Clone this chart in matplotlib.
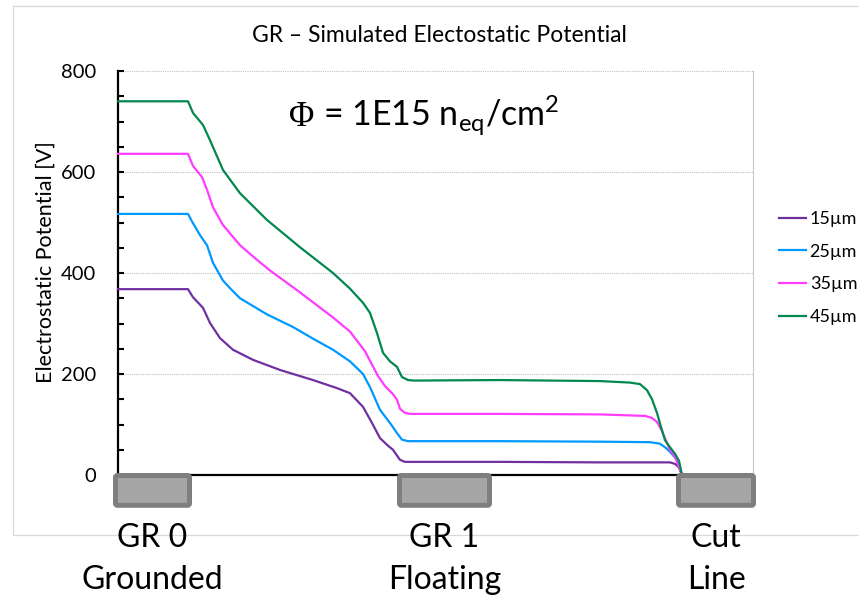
import matplotlib
matplotlib.use("Agg")
import matplotlib.pyplot as plt
from matplotlib.patches import Rectangle, FancyBboxPatch
from matplotlib.ticker import MultipleLocator
import matplotlib.transforms as mtransforms

plt.rcParams['font.family'] = ['Lato', 'DejaVu Sans']

# ---------------- data ----------------
title = "GR \u2013 Simulated Electostatic Potential"
ylabel = "Electrostatic Potential [V]"
series_labels = ["15\u00b5m", "25\u00b5m", "35\u00b5m", "45\u00b5m"]
series_colors = ["#7030a0", "#0099ff", "#ff3cff", "#00884e"]

x_15 = [0, 70, 75, 85, 92, 102, 115, 135, 162, 195, 219, 232, 245, 254, 262, 270, 275, 282, 287, 382,
        482, 552, 557, 561, 564]
v_15 = [368, 368, 352, 331, 301, 271, 248, 228, 208, 188, 172, 162, 135, 103, 73, 58, 50, 30, 26, 26,
        25, 25, 22, 15, 0]

x_25 = [0, 70, 74, 82, 89, 95, 105, 112, 122, 149, 175, 195, 215, 232, 245, 252, 262, 272, 279, 284,
        290, 382, 482, 532, 542, 547, 552, 559, 564]
v_25 = [517, 517, 502, 475, 455, 420, 385, 370, 350, 318, 293, 270, 248, 225, 200, 174, 129, 103, 83, 70,
        67, 67, 66, 65, 62, 55, 46, 30, 0]

x_35 = [0, 70, 75, 84, 89, 95, 105, 122, 139, 152, 179, 215, 232, 247, 260, 267, 275, 279, 282, 287,
        292, 382, 482, 527, 534, 539, 544, 549, 552, 557, 564]
v_35 = [636, 636, 612, 590, 565, 530, 495, 455, 426, 405, 366, 312, 284, 245, 196, 176, 160, 149, 131, 123,
        121, 121, 120, 117, 113, 105, 87, 63, 50, 36, 0]

x_45 = [0, 70, 75, 80, 85, 92, 105, 122, 149, 182, 215, 232, 245, 252, 259, 265, 272, 279, 284, 290,
        296, 382, 482, 512, 522, 529, 534, 539, 543, 547, 552, 557, 561, 564]
v_45 = [740, 740, 717, 705, 693, 663, 604, 558, 505, 451, 400, 369, 341, 321, 281, 242, 225, 214, 194, 188,
        187, 188, 186, 183, 180, 168, 150, 123, 95, 69, 55, 42, 28, 0]

ring_names = ["GR 0", "GR 1", "Cut"]
ring_states = ["Grounded", "Floating", "Line"]
ring_left = [-5, 279, 558]
ring_right = [74, 374, 638]

yticks = [0, 200, 400, 600, 800]

# ---------------- figure ----------------
W, H = 859, 595
fig = plt.figure(figsize=(W / 100, H / 100), dpi=100)
fig.patch.set_facecolor("white")

# outer chart frame
fig.add_artist(Rectangle((13 / W, 1 - 535 / H), 1.0, (535 - 6) / H,
                         transform=fig.transFigure, fill=False,
                         edgecolor="#d9d9d9", linewidth=0.9, zorder=0))

ax = fig.add_axes([118 / W, 1 - 475 / H, (753 - 118) / W, (475 - 71) / H])
ax.set_xlim(0, 635)
ax.set_ylim(0, 800)

for xs, vs, lab, col in zip([x_15, x_25, x_35, x_45], [v_15, v_25, v_35, v_45],
                            series_labels, series_colors):
    ax.plot(xs, vs, color=col, lw=1.6, label=lab, clip_on=False, zorder=3,
            solid_joinstyle="round")

# grid
for y in yticks[1:]:
    ax.axhline(y, color="#bfbfbf", lw=0.8, linestyle=(0, (1, 1)), zorder=1)

ax.spines["top"].set_visible(False)
ax.spines["right"].set_color("#c8c8c8")
ax.spines["right"].set_linewidth(0.8)
ax.spines["left"].set_color("black")
ax.spines["left"].set_linewidth(1.6)
ax.spines["bottom"].set_color("black")
ax.spines["bottom"].set_linewidth(1.6)

ax.set_xticks([])
ax.set_yticks(yticks)
ax.yaxis.set_minor_locator(MultipleLocator(50))
ax.tick_params(axis="y", which="both", direction="in", length=4, width=1.5,
               color="black", labelsize=14.5, pad=16)

# rings
for l, r in zip(ring_left, ring_right):
    p = FancyBboxPatch((l + 2.5, -60), (r - l) - 5, 59,
                       boxstyle="round,pad=0,rounding_size=2",
                       facecolor="#a6a6a6", edgecolor="#7f7f7f",
                       linewidth=3.6, clip_on=False, zorder=6,
                       mutation_aspect=2)
    ax.add_patch(p)

trans = mtransforms.blended_transform_factory(ax.transData, fig.transFigure)
for l, r, n, s in zip(ring_left, ring_right, ring_names, ring_states):
    cx = (l + r) / 2
    ax.text(cx, 1 - 547 / H, n, transform=trans, ha="center", va="baseline",
            fontsize=23, color="black", clip_on=False, zorder=7)
    ax.text(cx, 1 - 589 / H, s, transform=trans, ha="center", va="baseline",
            fontsize=23, color="black", clip_on=False, zorder=7)

# title
fig.text(439 / W, 1 - 42 / H, title, ha="center", va="baseline", fontsize=16.5)

# y label
fig.text(46 / W, 1 - 262 / H, ylabel, rotation=90, ha="center", va="center", fontsize=15.5)

# fluence annotation
fig.text(289 / W, 1 - 126 / H, "\u03a6", family="Liberation Serif", fontsize=25,
         ha="left", va="baseline")
fig.text(323 / W, 1 - 126 / H, r"= 1E15 n$_{\mathregular{eq}}$/cm$^{\mathregular{2}}$",
         fontsize=24.5, ha="left", va="baseline")

# legend
leg = fig.legend(loc="upper left", bbox_to_anchor=(779 / W, 1 - 211 / H),
                 frameon=False, fontsize=13, handlelength=1.5, handletextpad=0.2,
                 labelspacing=0.92, borderpad=0, borderaxespad=0)

fig.savefig("out.png", dpi=100)
